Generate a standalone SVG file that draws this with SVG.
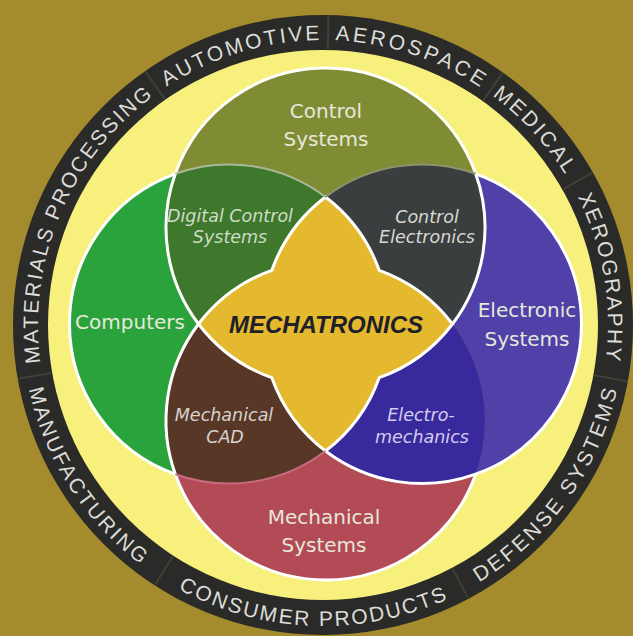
<svg xmlns="http://www.w3.org/2000/svg" width="633" height="636" viewBox="0 0 633 636">
<style>
.ring{font-family:"Liberation Sans",Arial,sans-serif;font-size:21px;fill:#DCDCD8;}
.lbl{font-family:"DejaVu Sans",sans-serif;font-size:20px;fill:#E6E8DA;text-anchor:middle;}
.ital{font-family:"DejaVu Sans",sans-serif;font-size:17.5px;font-style:italic;text-anchor:middle;}
.white{fill:none;stroke:#FFFFFF;stroke-width:3;}
.faint{fill:none;stroke-width:2;}
.sep{stroke:#46463F;stroke-width:2;opacity:0.8;}
</style>
<defs>
<clipPath id="cT"><circle cx="325.5" cy="227.5" r="159.5"/></clipPath>
<clipPath id="cL"><circle cx="229" cy="324" r="159.5"/></clipPath>
<clipPath id="cR"><circle cx="422" cy="324" r="159.5"/></clipPath>
<clipPath id="cB"><circle cx="325.5" cy="420.5" r="159.5"/></clipPath>
<path id="topPath" d="M323,610 A285,285 0 1 1 323,40 A285,285 0 1 1 323,610"/>
<path id="botPath" d="M323,24 A301,301 0 1 0 323,626 A301,301 0 1 0 323,24"/>
</defs>
<rect width="633" height="636" fill="#A38B2E"/>
<g id="ring">
<circle cx="323" cy="325" r="310" fill="#2A2A28"/>
<circle cx="323" cy="325" r="275" fill="#F7F07D"/>
<g class="sep">
<line x1="51.2" y1="372.9" x2="18.7" y2="378.6"/>
<line x1="164.8" y1="99.1" x2="145.2" y2="71.1"/>
<line x1="327.8" y1="49" x2="328.4" y2="16"/>
<line x1="483.3" y1="100.3" x2="502.4" y2="73.4"/>
<line x1="563.2" y1="189.1" x2="592" y2="172.8"/>
<line x1="594.4" y1="375.3" x2="627" y2="381.3"/>
<line x1="452.6" y1="568.7" x2="468.1" y2="597.9"/>
<line x1="172.8" y1="556.3" x2="154.8" y2="585"/>
</g>
<text class="ring" text-anchor="middle" letter-spacing="2.1"><textPath href="#topPath" startOffset="562.1">MATERIALS PROCESSING</textPath></text>
<text class="ring" text-anchor="middle" letter-spacing="2.6"><textPath href="#topPath" startOffset="811.8">AUTOMOTIVE</textPath></text>
<text class="ring" text-anchor="middle" letter-spacing="3.1"><textPath href="#topPath" startOffset="985.9">AEROSPACE</textPath></text>
<text class="ring" text-anchor="middle" letter-spacing="2.4"><textPath href="#topPath" startOffset="1131.1">MEDICAL</textPath></text>
<text class="ring" text-anchor="middle" letter-spacing="2.2"><textPath href="#topPath" startOffset="1294.8">XEROGRAPHY</textPath></text>
<text class="ring" text-anchor="middle" letter-spacing="2.4"><textPath href="#botPath" startOffset="644.6">MANUFACTURING</textPath></text>
<text class="ring" text-anchor="middle" letter-spacing="2.1"><textPath href="#botPath" startOffset="935.1">CONSUMER PRODUCTS</textPath></text>
<text class="ring" text-anchor="middle" letter-spacing="2.7"><textPath href="#botPath" startOffset="1232.4">DEFENSE SYSTEMS</textPath></text>
</g>
<g id="control-systems">
<circle cx="325.5" cy="227.5" r="159.5" fill="#808C34"/>
</g>
<g id="computers">
<circle cx="229" cy="324" r="159.5" fill="#2BA33C"/>
</g>
<g id="electronic-systems">
<circle cx="422" cy="324" r="159.5" fill="#4F41A8"/>
</g>
<g id="mechanical-systems">
<circle cx="325.5" cy="420.5" r="159.5" fill="#B24B56"/>
</g>
<g id="digital-control-systems">
<circle cx="229" cy="324" r="159.5" fill="#3E782D" clip-path="url(#cT)"/>
</g>
<g id="control-electronics">
<circle cx="422" cy="324" r="159.5" fill="#3A3E3E" clip-path="url(#cT)"/>
</g>
<g id="mechanical-cad">
<circle cx="229" cy="324" r="159.5" fill="#593726" clip-path="url(#cB)"/>
</g>
<g id="electro-mechanics">
<circle cx="422" cy="324" r="159.5" fill="#38299C" clip-path="url(#cB)"/>
</g>
<g id="mechatronics">
<path d="M325.5,197 A159.5,159.5 0 0 0 271.81,270.31 A159.5,159.5 0 0 0 198.5,324 A159.5,159.5 0 0 0 271.81,377.69 A159.5,159.5 0 0 0 325.5,451 A159.5,159.5 0 0 0 379.19,377.69 A159.5,159.5 0 0 0 452.5,324 A159.5,159.5 0 0 0 379.19,270.31 A159.5,159.5 0 0 0 325.5,197 Z" fill="#E4B92E" stroke="#FFFFFF" stroke-width="3" stroke-linejoin="miter"/>
</g>
<g id="connectors">
<path class="white" d="M175.31,173.81 A159.5,159.5 0 0 1 475.69,173.81 A159.5,159.5 0 0 1 475.69,474.19 A159.5,159.5 0 0 1 175.31,474.19 A159.5,159.5 0 0 1 175.31,173.81 Z"/>
<path class="white" d="M175.31,173.81 A159.5,159.5 0 0 0 198.5,324"/>
<path class="white" d="M475.69,173.81 A159.5,159.5 0 0 1 452.5,324"/>
<path class="white" d="M175.31,474.19 A159.5,159.5 0 0 1 198.5,324"/>
<path class="white" d="M475.69,474.19 A159.5,159.5 0 0 1 325.5,451"/>
<path class="faint" stroke="#A9B89A" d="M175.31,173.81 A159.5,159.5 0 0 1 325.5,197"/>
<path class="faint" stroke="#8C9470" d="M475.69,173.81 A159.5,159.5 0 0 0 325.5,197"/>
<path class="faint" stroke="#C86C84" d="M175.31,474.19 A159.5,159.5 0 0 0 325.5,451"/>
</g>
<g id="labels">
<text class="lbl" x="326" y="118">Control</text>
<text class="lbl" x="326" y="146">Systems</text>
<text class="lbl" x="130" y="329">Computers</text>
<text class="lbl" x="527" y="317">Electronic</text>
<text class="lbl" x="527" y="346">Systems</text>
<text class="lbl" x="324" y="524">Mechanical</text>
<text class="lbl" x="324" y="552">Systems</text>
<text class="ital" x="230" y="222" fill="#CFDCC6">Digital Control</text>
<text class="ital" x="230" y="243" fill="#CFDCC6">Systems</text>
<text class="ital" x="427" y="223" fill="#D8D8D4">Control</text>
<text class="ital" x="427" y="243" fill="#D8D8D4">Electronics</text>
<text class="ital" x="224" y="421" fill="#D6D2D0">Mechanical</text>
<text class="ital" x="225" y="443" fill="#D6D2D0">CAD</text>
<text class="ital" x="421" y="421" fill="#D4CCEE">Electro-</text>
<text class="ital" x="422" y="443" fill="#D4CCEE">mechanics</text>
<text x="326" y="333" text-anchor="middle" font-family="'Liberation Sans',Arial,sans-serif" font-size="24" font-weight="bold" font-style="italic" fill="#1F1F2B">MECHATRONICS</text>
</g>
</svg>
